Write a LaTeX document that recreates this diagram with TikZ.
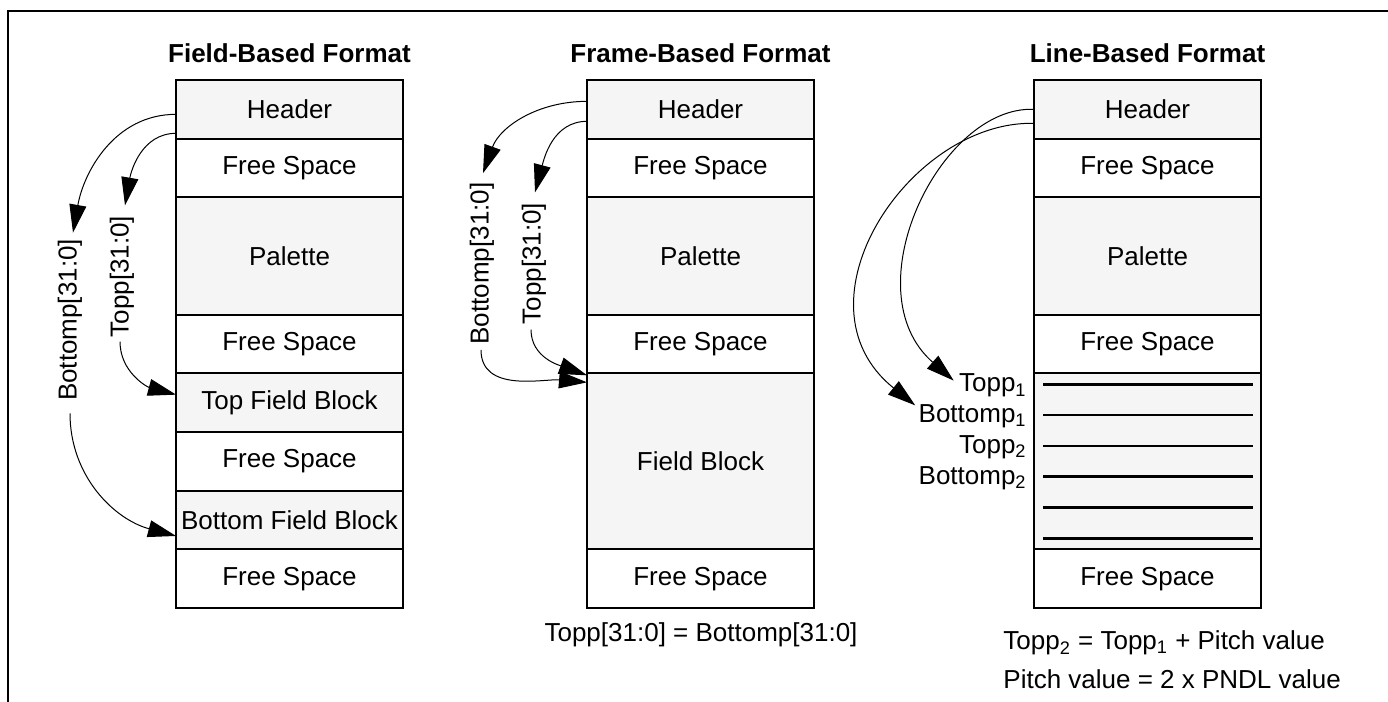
\documentclass[tikz,border=0pt]{standalone}
\usepackage{fontspec}
\setmainfont{Liberation Sans}
\usetikzlibrary{positioning,calc,arrows.meta}
\tikzset{
  cell/.style={draw,line width=1pt,minimum width=113.5pt,minimum height=29.33pt,inner sep=0pt,outer sep=0pt},
  shaded/.style={cell,fill=black!4},
  title/.style={font=\fontsize{13}{15.6}\selectfont\bfseries},
  ptr/.style={line width=0.5pt,-{Triangle[length=14pt,width=8.5pt]}},
  vlbl/.style={rotate=90,inner sep=0pt},
}
\begin{document}
\begin{tikzpicture}[x=0.5pt,y=0.5pt,font=\fontsize{13}{15.6}\selectfont] % ------ Buffer formats ----------------
\useasboundingbox (0,0) rectangle (1388,-702);
\draw [line width=1pt] (8,-702) -- (8,-11) -- (1388,-11);

% ------ Field-Based Format ----------------
\node [title] (ttl1) at (289.5,-53) {Field-Based Format};
\node [shaded,anchor=north] (c1hdr) at (289.5,-80) {Header};
\node [cell,below=0pt of c1hdr] (c1fs1) {Free Space};
\node [shaded,minimum height=58.67pt,below=0pt of c1fs1] (c1pal) {Palette};
\node [cell,below=0pt of c1pal] (c1fs2) {Free Space};
\node [shaded,below=0pt of c1fs2] (c1top) {Top Field Block};
\node [cell,below=0pt of c1top] (c1fs3) {Free Space};
\node [shaded,below=0pt of c1fs3] (c1bot) {Bottom Field Block};
\node [cell,below=0pt of c1bot] (c1fs4) {Free Space};
\node [vlbl] (c1blbl) at (70,-320) {Bottomp[31:0]};
\node [vlbl] (c1tlbl) at (122,-276.5) {Topp[31:0]};
\draw [ptr] ($(c1hdr.west)+(0,-5)$) to[out=180,in=80] ($(c1blbl.east)+(3,6)$);
\draw [ptr] ($(c1blbl.west)+(0,-12)$) to[out=-90,in=165] ($(c1bot.west)+(0,-16)$);
\draw [ptr] ($(c1hdr.west)+(0,-24)$) to[out=180,in=80] ($(c1tlbl.east)+(3,10)$);
\draw [ptr] ($(c1tlbl.west)+(-2,-4)$) to[out=-90,in=165] ($(c1top.west)+(0,8)$);

% ------ Frame-Based Format ----------------
\node [title] (ttl2) at (700.5,-53) {Frame-Based Format};
\node [shaded,anchor=north] (c2hdr) at (700.5,-80) {Header};
\node [cell,below=0pt of c2hdr] (c2fs1) {Free Space};
\node [shaded,minimum height=58.67pt,below=0pt of c2fs1] (c2pal) {Palette};
\node [cell,below=0pt of c2pal] (c2fs2) {Free Space};
\node [shaded,minimum height=88pt,below=0pt of c2fs2] (c2fld) {Field Block};
\node [cell,below=0pt of c2fld] (c2fs3) {Free Space};
\node [vlbl] (c2blbl) at (482,-263.5) {Bottomp[31:0]};
\node [vlbl] (c2tlbl) at (534,-263.5) {Topp[31:0]};
\draw [ptr] ($(c2hdr.west)+(0,8)$) to[out=180,in=70] ($(c2blbl.east)+(1,9)$);
\draw [ptr] ($(c2blbl.west)+(-1,-5)$) to[out=-90,in=175] ($(c2fld.north west)+(0,-9)$);
\draw [ptr] ($(c2hdr.west)+(0,-12)$) to[out=180,in=75] ($(c2tlbl.east)+(1,10)$);
\draw [ptr] ($(c2tlbl.west)+(-3,-5)$) to[out=-90,in=160] ($(c2fld.north west)+(0,-2)$);
\node (eq2) at (701,-635) {Topp[31:0] = Bottomp[31:0]};

% ------ Line-Based Format ----------------
\node [title] (ttl3) at (1147.5,-53) {Line-Based Format};
\node [shaded,anchor=north] (c3hdr) at (1147.5,-80) {Header};
\node [cell,below=0pt of c3hdr] (c3fs1) {Free Space};
\node [shaded,minimum height=58.67pt,below=0pt of c3fs1] (c3pal) {Palette};
\node [cell,below=0pt of c3pal] (c3fs2) {Free Space};
\node [shaded,minimum height=88pt,below=0pt of c3fs2] (c3lns) {};
\node [cell,below=0pt of c3lns] (c3fs3) {Free Space};
\foreach \k in {0,...,5}
  \draw [line width=1.3pt] ($(c3lns.north west)+(9,-11-30.8*\k)$) -- ++(210,0);
\foreach \w/\s/\n [count=\k from 0] in {Topp/1/c3t1,Bottomp/1/c3b1,Topp/2/c3t2,Bottomp/2/c3b2}
  \node [anchor=base east,inner sep=0pt] (\n) at ($(c3lns.north west)+(-7,-18.5-30.8*\k)$) {\w\textsubscript{\s}};
\draw [ptr] (c3hdr.west) .. controls +(-94,4) and +(-103,90) .. ($(c3t1.west)+(-5,5)$);
\draw [ptr] ($(c3hdr.west)+(0,-14)$) .. controls +(-124,3) and +(-127,102) .. ($(c3b1.west)+(-3,11)$);
\node [anchor=west,inner sep=0pt] (eq3a) at (1003,-643) {Topp\textsubscript{2} = Topp\textsubscript{1} + Pitch value};
\node [anchor=west,inner sep=0pt] (eq3b) at (1003,-679) {Pitch value = 2 x PNDL value};
\end{tikzpicture}
\end{document}
